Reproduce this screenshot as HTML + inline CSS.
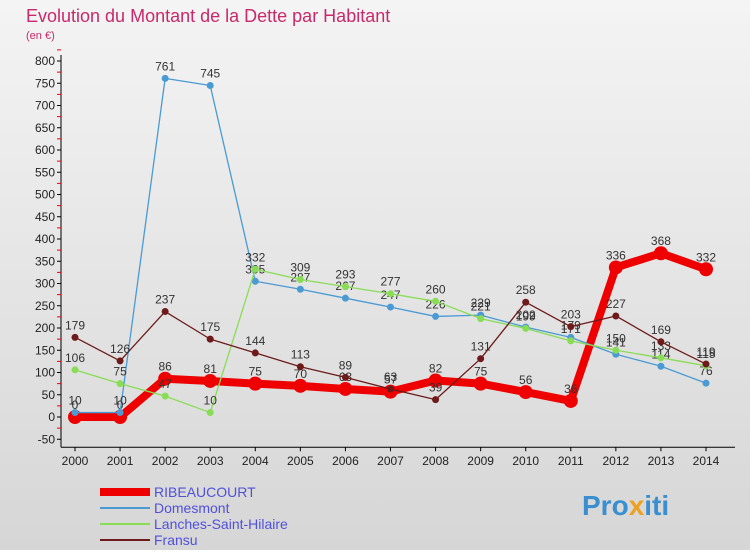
<!DOCTYPE html>
<html><head><meta charset="utf-8"><style>
body{margin:0;width:750px;height:550px;overflow:hidden;font-family:"Liberation Sans","DejaVu Sans",sans-serif}
#wrap{position:relative;width:750px;height:550px;background:linear-gradient(#f4f4f4,#d6d6d6)}
</style></head><body>
<div id="wrap">
<svg id="c" width="750" height="550">
<text x="26" y="22" font-size="18" fill="#c8296a">Evolution du Montant de la Dette par Habitant</text>
<text x="26" y="39" font-size="11" fill="#c8296a">(en €)</text>
<g id="axes"></g><g id="series"></g><g id="legend"></g>
<text x="582" y="515" font-size="28" font-weight="bold" fill="#3a8fd0">Pro<tspan fill="#f0a020">x</tspan>iti</text>
</svg>
</div>
<script>
const years=[2000,2001,2002,2003,2004,2005,2006,2007,2008,2009,2010,2011,2012,2013,2014];
const yTicks=[-50,0,50,100,150,200,250,300,350,400,450,500,550,600,650,700,750,800];
const ribeaucourt=[0,0,86,81,75,70,63,57,82,75,56,36,336,368,332];
const domesmont=[10,10,761,745,305,287,267,247,226,229,202,179,141,114,76];
const lanches=[106,75,47,10,332,309,293,277,260,221,199,171,150,133,115];
const fransu=[179,126,237,175,144,113,89,63,39,131,258,203,227,169,119];
const seriesNames=["RIBEAUCOURT","Domesmont","Lanches-Saint-Hilaire","Fransu"];
const NS="http://www.w3.org/2000/svg";
const X=i=>75+i*(706-75)/14;
const Y=v=>417-v*0.445;
function mk(p,tag,at){const e=document.createElementNS(NS,tag);for(const k in at)e.setAttribute(k,at[k]);p.appendChild(e);return e;}
const ax=document.getElementById('axes');
mk(ax,'line',{x1:61,y1:Y(-50)+8,x2:61,y2:55,stroke:'#000'});
mk(ax,'line',{x1:61,y1:Y(-50)+8,x2:735,y2:Y(-50)+8,stroke:'#000'});
yTicks.forEach(t=>{
 mk(ax,'line',{x1:57,y1:Y(t),x2:61,y2:Y(t),stroke:'#000'});
 mk(ax,'line',{x1:57,y1:Y(t+25),x2:61,y2:Y(t+25),stroke:'#e00'});
 const tx=mk(ax,'text',{x:55,y:Y(t)+4,'font-size':12,'text-anchor':'end',fill:'#222'});tx.textContent=t;
 
 
});
years.forEach((y,i)=>{
 mk(ax,'line',{x1:X(i),y1:Y(-50)+8,x2:X(i),y2:Y(-50)+12,stroke:'#000'});
 const tx=mk(ax,'text',{x:X(i),y:465,'font-size':12,'text-anchor':'middle',fill:'#222'});tx.textContent=y;
 
 
});
const defs=[[ribeaucourt,'#ee0000',8,7],[domesmont,'#4a9ad4',1.3,3.5],[lanches,'#88dd55',1.3,3.5],[fransu,'#6e1a1a',1.3,3.5]];
const sg=document.getElementById('series');
defs.forEach(([d,c,w,r],si)=>{
 const g=mk(sg,'g',{});
 
 
 mk(g,'polyline',{points:d.map((v,i)=>X(i)+','+Y(v)).join(' '),fill:'none',stroke:c,'stroke-width':w,'stroke-linejoin':'round'});
 d.forEach((v,i)=>{
  const p=mk(g,'circle',{cx:X(i),cy:Y(v),r:r,fill:c});
  
  
  const t=mk(g,'text',{x:X(i),y:Y(v)-8,'font-size':12,'text-anchor':'middle',fill:'#333'});t.textContent=v;
  
  
 });
});
const lg=document.getElementById('legend');
defs.forEach(([d,c],i)=>{
 const y=492+i*16;
 const g=mk(lg,'g',{});
 
 
 mk(g,'line',{x1:100,y1:y,x2:150,y2:y,stroke:c,'stroke-width':i==0?8:2});
 const t=mk(g,'text',{x:154,y:y+5,'font-size':14,fill:'#5050dd'});t.textContent=seriesNames[i];
});
</script>
</body></html>
